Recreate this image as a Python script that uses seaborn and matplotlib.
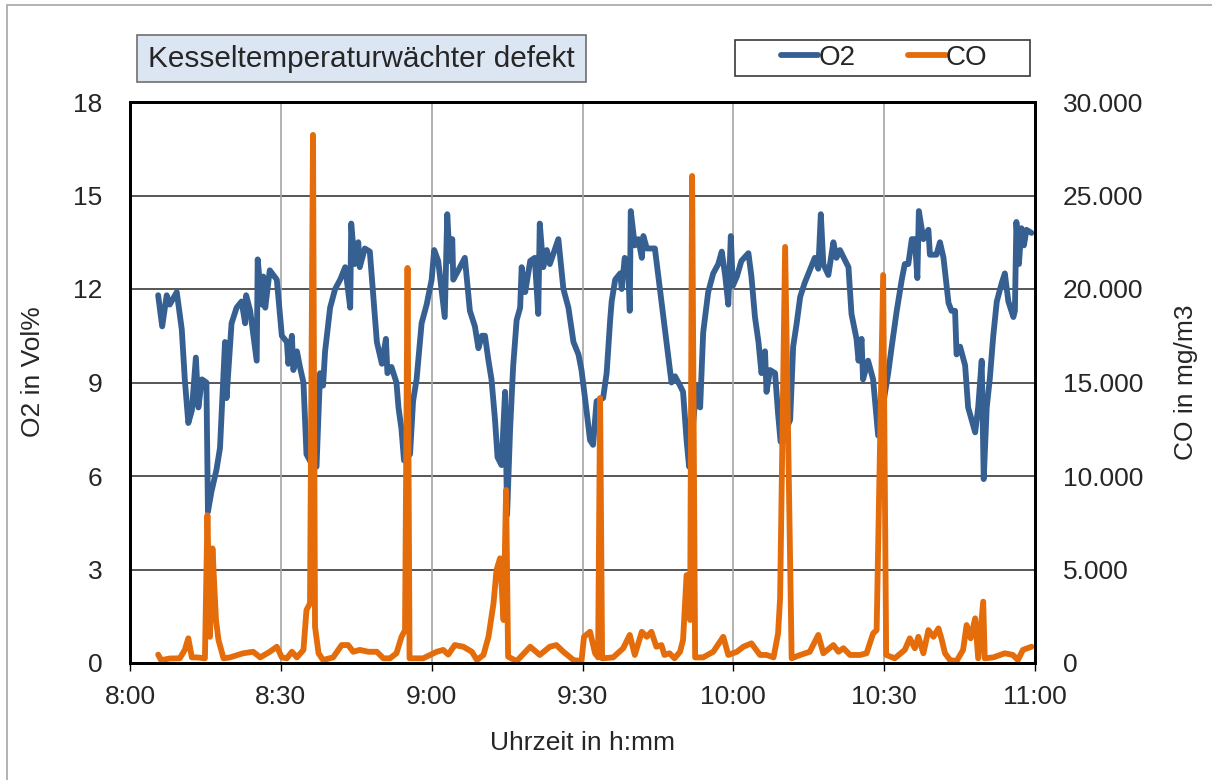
import matplotlib
matplotlib.use("Agg")
import matplotlib.pyplot as plt
import seaborn as sns
import pandas as pd
from matplotlib.patches import Rectangle

# ---------------- data (minutes after 8:00) ----------------
o2_time = [5.6, 6.4, 7.3, 7.9, 9.3, 10.3, 10.9, 11.6, 12.3, 13.1, 13.6, 14.3, 15.2, 15.5, 16.2, 17.2, 17.9,
           18.9, 19.2, 20.2, 21.2, 22.2, 22.9, 23.1, 23.9, 25.2, 25.4, 26.2, 26.5, 26.9, 27.8, 29.2, 30.2,
           31.2, 31.5, 32.2, 32.5, 33.2, 33.8, 34.5, 35.1, 36.1, 37.1, 37.8, 38.4, 38.8, 39.8, 40.8, 41.8,
           42.8, 43.8, 44.0, 44.7, 45.4, 45.7, 46.7, 47.7, 49.1, 50.1, 50.9, 51.2, 52.0, 53.0, 53.4, 54.0,
           54.5, 55.7, 56.3, 57.0, 58.0, 59.0, 60.0, 60.5, 61.3, 62.6, 63.1, 63.6, 64.1, 64.3, 65.3, 66.6,
           67.6, 68.6, 69.3, 70.0, 70.6, 71.3, 71.9, 72.6, 73.1, 73.9, 74.6, 75.0, 75.6, 76.2, 76.9, 77.6,
           77.9, 78.6, 79.6, 80.5, 81.2, 81.5, 82.2, 82.9, 83.5, 85.2, 86.2, 87.2, 88.2, 89.2, 89.8, 90.5,
           91.5, 92.1, 92.8, 94.1, 94.8, 95.5, 95.8, 96.5, 97.5, 97.8, 98.4, 99.1, 99.4, 99.6, 100.4, 101.1,
           101.8, 102.1, 102.8, 104.4, 105.4, 106.4, 107.1, 107.7, 108.4, 109.4, 110.0, 110.7, 111.2, 112.7,
           113.4, 114.0, 115.0, 116.0, 117.0, 117.7, 118.4, 119.0, 119.5, 119.9, 120.7, 121.6, 123.0, 123.6,
           124.3, 125.0, 125.6, 126.3, 126.6, 127.3, 128.3, 128.9, 129.4, 131.3, 131.9, 132.6, 133.3, 134.2,
           135.2, 136.2, 136.9, 137.4, 137.9, 138.9, 139.9, 140.5, 141.2, 142.9, 143.5, 144.5, 144.9, 145.5,
           145.8, 146.8, 147.8, 148.8, 150.8, 151.5, 152.5, 153.5, 154.1, 154.8, 155.5, 156.1, 156.6, 156.9,
           157.8, 158.8, 159.1, 160.4, 161.1, 161.8, 162.8, 163.4, 164.1, 164.4, 165.1, 166.1, 166.7, 167.4,
           168.1, 168.7, 169.4, 169.8, 170.4, 171.0, 171.7, 172.4, 173.4, 174.0, 174.7, 175.7, 176.0, 176.3,
           176.8, 177.3, 177.8, 178.3, 179.3]
o2_values = [11.8, 10.8, 11.8, 11.5, 11.9, 10.7, 9.1, 7.7, 8.1, 9.8, 8.2, 9.1, 9.0, 4.85, 5.5, 6.2, 6.9,
             10.3, 8.5, 10.9, 11.4, 11.6, 10.9, 11.8, 11.3, 9.7, 12.95, 11.5, 12.4, 11.4, 12.6, 12.3, 10.5,
             10.3, 9.6, 10.5, 9.4, 10.0, 9.5, 9.0, 6.7, 6.4, 6.3, 9.3, 8.9, 10.0, 11.4, 12.0, 12.3,
             12.7, 11.4, 14.1, 12.8, 13.5, 12.7, 13.3, 13.2, 10.3, 9.6, 10.4, 9.3, 9.5, 9.0, 8.2, 7.5,
             6.5, 6.7, 8.4, 9.1, 10.9, 11.5, 12.3, 13.25, 12.9, 11.1, 14.4, 12.9, 13.6, 12.3, 12.6, 13.0,
             11.3, 10.8, 10.1, 10.5, 10.5, 9.7, 9.1, 7.8, 6.6, 6.35, 8.7, 4.75, 7.5, 9.5, 11.0, 11.4,
             12.7, 11.9, 12.9, 13.0, 11.2, 14.1, 12.7, 13.25, 12.8, 13.6, 12.0, 11.4, 10.3, 9.9, 9.4, 8.5,
             7.15, 7.0, 8.4, 8.5, 9.3, 11.0, 11.6, 12.3, 12.5, 12.0, 13.0, 12.6, 11.3, 14.5, 13.4, 13.6,
             13.0, 13.7, 13.3, 13.3, 12.0, 10.7, 9.8, 9.0, 9.2, 8.9, 8.7, 7.15, 6.3, 8.9,
             8.2, 10.6, 11.9, 12.5, 12.8, 13.2, 12.4, 11.5, 13.7, 12.1, 12.4, 12.9, 13.15, 12.4,
             11.1, 10.3, 9.3, 10.0, 8.7, 9.4, 9.3, 8.0, 7.1, 7.8, 10.15, 10.9, 11.75, 12.2,
             12.6, 13.0, 12.65, 14.4, 12.8, 12.45, 13.5, 13.0, 13.25, 12.7, 11.2, 10.4, 9.7, 10.4,
             9.1, 9.7, 9.1, 7.3, 9.3, 10.15, 11.3, 12.3, 12.8, 12.8, 13.6, 13.6, 12.35, 14.5,
             13.6, 13.9, 13.1, 13.1, 13.5, 13.0, 11.55, 11.3, 11.3, 9.9, 10.15, 9.55, 8.2, 7.8,
             7.4, 8.2, 9.7, 5.9, 8.2, 9.1, 10.5, 11.6, 12.2, 12.5, 11.6, 11.1, 11.3, 14.15,
             12.8, 13.95, 13.4, 13.9, 13.8]

co_time = [5.6, 6.2, 7.9, 9.9, 10.9, 11.6, 12.3, 13.3, 14.9, 15.4, 15.9, 16.4, 17.1, 17.6, 18.6, 19.9,
           22.5, 24.5, 25.9, 27.8, 29.2, 30.2, 31.2, 32.2, 33.2, 34.5, 35.1, 35.8, 36.4, 36.8, 37.5, 38.4,
           40.4, 42.1, 43.4, 44.4, 45.7, 47.4, 49.1, 50.4, 51.7, 53.0, 54.0, 54.7, 55.2, 55.6, 58.3, 61.0,
           62.3, 63.3, 64.6, 66.3, 68.0, 69.0, 70.3, 71.3, 72.3, 72.9, 73.6, 74.3, 74.8, 75.2, 76.9, 79.6,
           81.5, 83.5, 84.8, 86.2, 88.2, 89.8, 90.3, 91.5, 92.5, 93.1, 93.5, 93.9, 96.1, 98.1, 99.4, 100.4,
           101.8, 102.8, 103.7, 104.7, 105.7, 106.3, 107.3, 108.3, 109.4, 110.0, 110.7, 111.4, 111.8, 112.4,
           114.0, 116.0, 118.0, 119.0, 120.7, 122.0, 123.6, 125.3, 126.6, 128.0, 128.9, 129.3, 130.3, 131.6,
           133.3, 135.2, 136.9, 137.9, 139.9, 140.9, 141.9, 143.2, 145.2, 146.5, 147.8, 148.5, 149.8, 150.4,
           152.1, 154.1, 155.1, 156.1, 156.8, 157.8, 158.8, 159.8, 160.8, 161.4, 162.1, 163.1, 164.4, 165.7,
           166.4, 167.2, 168.1, 168.7, 169.7, 170.0, 171.7, 174.0, 175.6, 176.6, 177.6, 179.3]
co_values = [450, 150, 240, 250, 700, 1320, 300, 300, 250, 7900, 1400, 6130, 2300, 1230, 250, 300,
             520, 600, 300, 600, 870, 300, 250, 600, 300, 700, 2830, 3190, 28240, 1940, 520, 160,
             300, 960, 960, 600, 700, 600, 600, 250, 250, 520, 1400, 1760, 21125, 250, 250, 600,
             700, 450, 960, 870, 600, 160, 430, 1400, 3190, 4970, 5600, 2300, 9250, 340, 100, 870,
             430, 870, 960, 600, 160, 100, 1400, 1670, 520, 300, 14170, 250, 300, 790, 1500, 430,
             1670, 1400, 1670, 870, 960, 430, 520, 250, 600, 1230, 4700, 2300, 26045, 300,
             300, 600, 1400, 430, 600, 870, 1050, 430, 430, 300, 1580, 3460, 22250, 250,
             430, 600, 1500, 520, 960, 600, 790, 430, 430, 520, 1580, 1760, 20750, 430,
             250, 700, 1320, 790, 1400, 520, 1760, 1400, 1850, 1300, 520, 160, 100, 700,
             2030, 1320, 2390, 250, 3280, 250, 300, 520, 430, 160, 700, 870]

x_ticks = [0, 30, 60, 90, 120, 150, 180]
x_labels = ["8:00", "8:30", "9:00", "9:30", "10:00", "10:30", "11:00"]
o2_ticks = [0, 3, 6, 9, 12, 15, 18]
co_ticks = [0, 5000, 10000, 15000, 20000, 25000, 30000]
co_labels = ["0", "5.000", "10.000", "15.000", "20.000", "25.000", "30.000"]

title_text = "Kesseltemperaturwächter defekt"
x_label = "Uhrzeit in h:mm"
o2_label = "O2 in Vol%"
co_label = "CO in mg/m3"

# ---------------- style ----------------
sns.set_theme(style="white")
plt.rcParams["font.family"] = ["Liberation Sans", "DejaVu Sans"]
FS = 19
BLUE = "#376092"
ORANGE = "#E46C0A"

W, H = 1212, 780
fig = plt.figure(figsize=(W / 100, H / 100), dpi=100)
ax = fig.add_axes([130 / W, 1 - 663 / H, (1035 - 130) / W, (663 - 102) / H])
ax2 = ax.twinx()

df_o2 = pd.DataFrame({"t": o2_time, "v": o2_values})
df_co = pd.DataFrame({"t": co_time, "v": co_values})

sns.lineplot(data=df_o2, x="t", y="v", ax=ax, color=BLUE, lw=4.2, label="O2", legend=False,
             solid_joinstyle="round", solid_capstyle="round")
sns.lineplot(data=df_co, x="t", y="v", ax=ax2, color=ORANGE, lw=4.2, label="CO", legend=False,
             solid_joinstyle="round", solid_capstyle="round")

ax.set_xlim(0, 180)
ax.set_ylim(0, 18)
ax2.set_ylim(0, 30000)

# grid lines
for yv in o2_ticks[1:-1]:
    ax.axhline(yv, color="#3a3a3a", lw=1.2, zorder=0.5)
for xv in x_ticks[1:-1]:
    ax.axvline(xv, color="#a6a6a6", lw=1.2, zorder=0.5)
ax.grid(False)
ax2.grid(False)

ax.set_xticks(x_ticks)
ax.set_xticklabels(x_labels, fontsize=FS)
ax.set_yticks(o2_ticks)
ax.set_yticklabels([str(v) for v in o2_ticks], fontsize=FS)
ax2.set_yticks(co_ticks)
ax2.set_yticklabels(co_labels, fontsize=FS)

ax.tick_params(axis="x", which="both", direction="out", length=6, width=1, color="black", pad=10, bottom=True)
ax.tick_params(axis="y", length=0, pad=20)
ax2.tick_params(axis="y", length=0, pad=20)

ax.set_xlabel(x_label, fontsize=FS, labelpad=16)
ax.set_ylabel(o2_label, fontsize=FS, labelpad=14)
ax.yaxis.set_label_coords(-0.094, 0.52)
ax2.set_ylabel(co_label, fontsize=FS, labelpad=22)

for a in (ax, ax2):
    for s in a.spines.values():
        s.set_color("black")
        s.set_linewidth(2)
        s.set_visible(True)

# title box
fig.add_artist(Rectangle((137 / W, 1 - 82 / H), (586 - 137) / W, (82 - 35) / H, transform=fig.transFigure,
                         facecolor="#DCE6F2", edgecolor="#6e6e6e", lw=1.2))
fig.text(148 / W, 1 - 59 / H, title_text, fontsize=FS + 2.4, ha="left", va="center")

# legend
fig.add_artist(Rectangle((735 / W, 1 - 76 / H), (1030 - 735) / W, (76 - 40) / H, transform=fig.transFigure,
                         facecolor="white", edgecolor="#3a3a3a", lw=1.2))
handles = [ax.get_lines()[0], ax2.get_lines()[0]]
leg = fig.legend(handles, ["O2", "CO"], loc="center", bbox_to_anchor=(884 / W, 1 - 58 / H),
                 ncol=2, fontsize=FS + 1, frameon=False, handlelength=1.35,
                 handletextpad=0.0, columnspacing=1.9, borderpad=0.2, borderaxespad=0)

# outer chart frame
fig.add_artist(Rectangle((7 / W, -0.1), 1.2, 1 - 5 / H + 0.1, transform=fig.transFigure,
                         fill=False, edgecolor="#a6a6a6", lw=1.2))

fig.savefig("out.png", dpi=100)
